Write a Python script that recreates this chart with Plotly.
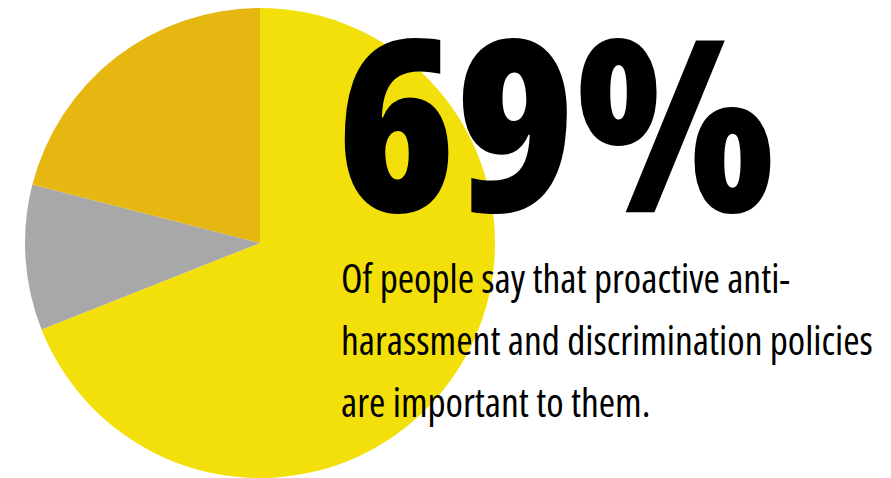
import plotly.graph_objects as go

labels = ["Important", "Neutral", "Not important"]
values = [69, 10, 21]
colors = ["#F3E00A", "#A8A8A8", "#E6B710"]

headline = "69%"
body_lines = [
    "Of people say that proactive anti-",
    "harassment and discrimination policies",
    "are important to them.",
]

W, H = 891, 478

fig = go.Figure(
    go.Pie(
        labels=labels,
        values=values,
        marker=dict(colors=colors, line=dict(width=0)),
        sort=False,
        direction="clockwise",
        rotation=0,
        textinfo="none",
        hoverinfo="label+percent",
        domain=dict(x=[25 / W, 495 / W], y=[0, 470 / H]),
    )
)

fam = "Open Sans, Roboto Condensed, sans-serif"


def condensed(t):
    return f'<span style="font-stretch:75%">{t}</span>'


annotations = [
    dict(
        text=condensed(headline),
        x=335 / W, y=1 - 118 / H,
        xref="paper", yref="paper",
        xanchor="left", yanchor="middle",
        height=226, valign="middle",
        showarrow=False,
        font=dict(family=fam, size=240, color="#000000", weight=800),
    )
]
for i, line in enumerate(body_lines):
    annotations.append(
        dict(
            text=condensed(line),
            x=339 / W, y=1 - (278 + 62 * i) / H,
            xref="paper", yref="paper",
            xanchor="left", yanchor="middle",
            showarrow=False,
            font=dict(family=fam, size=39.5, color="#000000", weight=400),
        )
    )

fig.update_layout(
    width=W, height=H,
    margin=dict(l=0, r=0, t=0, b=0),
    paper_bgcolor="#FFFFFF",
    plot_bgcolor="#FFFFFF",
    showlegend=False,
    annotations=annotations,
)

fig.write_html("out.html")
